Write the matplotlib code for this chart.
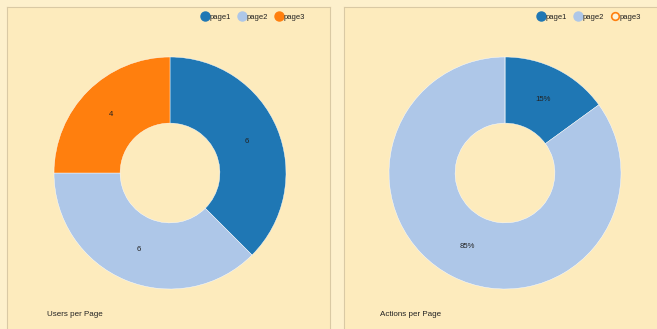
import matplotlib.pyplot as plt
from matplotlib.lines import Line2D
import numpy as np

pages = ['page1', 'page2', 'page3']
users = [6, 6, 4]
actions = [15, 85, 0]
colors = ['#1f77b4', '#aec7e8', '#ff7f0e']

W, H = 657, 329
bg_out = '#fdf0cc'
bg_panel = '#fdebbd'
edge = '#d9c9a4'

plt.rcParams['font.family'] = ['Liberation Sans', 'DejaVu Sans']

fig = plt.figure(figsize=(W / 100, H / 100), dpi=100)
fig.patch.set_facecolor(bg_out)


def px_axes(x0, y0, x1, y1, **kw):
    # pixel box (top-left origin) -> figure axes
    return fig.add_axes([x0 / W, 1 - y1 / H, (x1 - x0) / W, (y1 - y0) / H], **kw)


def panel(x0, x1, cx, title, title_x, values, label_fmt, hollow_zero, legend_x):
    bg = px_axes(x0, 7, x1, H + 2)
    bg.set_facecolor(bg_panel)
    bg.set_xticks([])
    bg.set_yticks([])
    for s in bg.spines.values():
        s.set_color(edge)
        s.set_linewidth(0.8)
    fig.text(title_x / W, 1 - 315 / H, title, fontsize=5.8, va='center', color='#222222')

    cy = 173
    r = 116
    ax = px_axes(cx - r, cy - r, cx + r, cy + r)
    ax.set_facecolor('none')
    ax.axis('off')
    wedges, _ = ax.pie(values, colors=colors, startangle=90, counterclock=False,
                       radius=1, wedgeprops=dict(width=0.57, edgecolor='white', linewidth=0.3))
    total = sum(values)
    for w, v in zip(wedges, values):
        if v == 0:
            continue
        mid = np.deg2rad((w.theta1 + w.theta2) / 2)
        ax.text(0.715 * np.cos(mid), 0.715 * np.sin(mid), label_fmt(v, total),
                ha='center', va='center', fontsize=5.6, color='#222222')
    ax.set_xlim(-1, 1)
    ax.set_ylim(-1, 1)

    handles = []
    for p, c, v in zip(pages, colors, values):
        if hollow_zero and v == 0:
            h = Line2D([], [], marker='o', linestyle='', markersize=5.5,
                       markerfacecolor='#fdf3d8', markeredgecolor=c, markeredgewidth=1.2, label=p)
        else:
            h = Line2D([], [], marker='o', linestyle='', markersize=6.5,
                       markerfacecolor=c, markeredgecolor=c, label=p)
        handles.append(h)
    leg = fig.legend(handles=handles, loc='center left', bbox_to_anchor=(legend_x / W, 1 - 17 / H),
                     ncol=3, frameon=False, fontsize=5.5, handletextpad=0.15, columnspacing=0.9,
                     borderpad=0, handlelength=1.0, borderaxespad=0)
    for t in leg.get_texts():
        t.set_color('#222222')


panel(7, 330, 170, 'Users per Page', 47, users, lambda v, t: str(v), False, 201)
panel(344, 666, 505, 'Actions per Page', 380, actions,
      lambda v, t: '%d%%' % round(100 * v / t), True, 537)

fig.savefig('out.png', dpi=100, facecolor=fig.get_facecolor())
